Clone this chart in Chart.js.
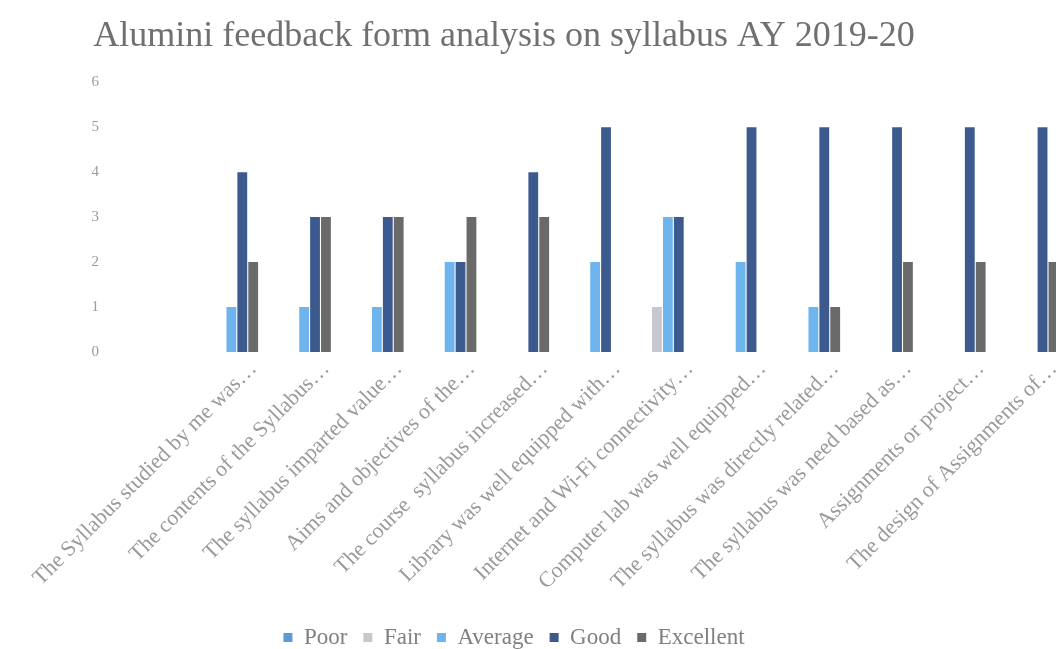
<!DOCTYPE html>
<html>
<head>
<meta charset="utf-8">
<title>Alumini feedback form analysis</title>
<script src="https://cdn.jsdelivr.net/npm/chart.js@4/dist/chart.umd.min.js"></script>
<style>
  html, body { margin: 0; padding: 0; background: #fff; overflow: hidden; }
  #wrap { width: 1068px; height: 649px; position: relative; }
</style>
</head>
<body>
<div id="wrap"><canvas id="feedbackChart"></canvas></div>
<script>
// categories (labels are cut short in the original, with an ellipsis)
const questions = [
  "The Syllabus studied by me was\u2026",
  "The contents of the Syllabus\u2026",
  "The syllabus imparted value\u2026",
  "Aims and objectives of the\u2026",
  "The course  syllabus increased\u2026",
  "Library was well equipped with\u2026",
  "Internet and Wi-Fi connectivity\u2026",
  "Computer lab was well equipped\u2026",
  "The syllabus was directly related\u2026",
  "The syllabus was need based as\u2026",
  "Assignments or project\u2026",
  "The design of Assignments of\u2026"
];

// number of responses per rating
const poor      = [0, 0, 0, 0, 0, 0, 0, 0, 0, 0, 0, 0];
const fair      = [0, 0, 0, 0, 0, 0, 1, 0, 0, 0, 0, 0];
const average   = [1, 1, 1, 2, 0, 2, 3, 2, 1, 0, 0, 0];
const good      = [4, 3, 3, 2, 4, 5, 3, 5, 5, 5, 5, 5];
const excellent = [2, 3, 3, 3, 3, 0, 0, 0, 1, 2, 2, 2];

const yTicks = [0, 1, 2, 3, 4, 5, 6];

const serif = "'Liberation Serif', 'DejaVu Serif', serif";

// title and legend sit left of the canvas centre in the original (the plot runs off the right edge)
const shiftBoxes = {
  id: "shiftBoxes",
  afterLayout(chart) {
    const t = chart.titleBlock, l = chart.legend;
    if (t) { t.left -= 30; t.right -= 30; }
    if (l) { l.left -= 20; l.right -= 20; l.top += 10; l.bottom += 10; }
  }
};

const ctx = document.getElementById("feedbackChart").getContext("2d");
new Chart(ctx, {
  type: "bar",
  data: {
    labels: questions,
    datasets: [
      { label: "Poor", data: poor, backgroundColor: "#5b9bd5" },
      { label: "Fair", data: fair, backgroundColor: "#c6c8d0" },
      { label: "Average", data: average, backgroundColor: "#6db5ec" },
      { label: "Good", data: good, backgroundColor: "#3d5a8f" },
      { label: "Excellent", data: excellent, backgroundColor: "#6a6a6a" }
    ]
  },
  options: {
    responsive: true,
    maintainAspectRatio: false,
    animation: false,
    layout: { padding: 0 },
    datasets: { bar: { categoryPercentage: 0.75, barPercentage: 0.9 } },
    plugins: {
      title: {
        display: true,
        text: "Alumini feedback form analysis on syllabus AY 2019-20",
        color: "#707070",
        font: { family: serif, size: 36, weight: "normal" },
        padding: { top: 15, bottom: 24 }
      },
      legend: {
        position: "bottom",
        labels: {
          color: "#808080",
          font: { family: serif, size: 23 },
          boxWidth: 9,
          boxHeight: 9,
          padding: 16
        }
      },
      tooltip: { enabled: false }
    },
    scales: {
      x: {
        grid: { display: false, drawTicks: false },
        border: { display: false },
        ticks: {
          color: "#9a9a9a",
          font: { family: serif, size: 22 },
          minRotation: 45,
          maxRotation: 45,
          autoSkip: false,
          labelOffset: 22,
          padding: 4
        },
        afterFit(scale) { scale.height = 248; }
      },
      y: {
        min: 0,
        max: 6,
        grid: { display: false, drawTicks: false },
        border: { display: false },
        afterBuildTicks(scale) { scale.ticks = yTicks.map(v => ({ value: v })); },
        ticks: {
          color: "#9a9a9a",
          font: { family: serif, size: 15 },
          padding: 96
        },
        afterFit(scale) {
          scale.width = 195;
          scale.paddingTop = 8;
          scale.paddingBottom = 8;
        }
      }
    }
  },
  plugins: [shiftBoxes]
});
</script>
</body>
</html>
